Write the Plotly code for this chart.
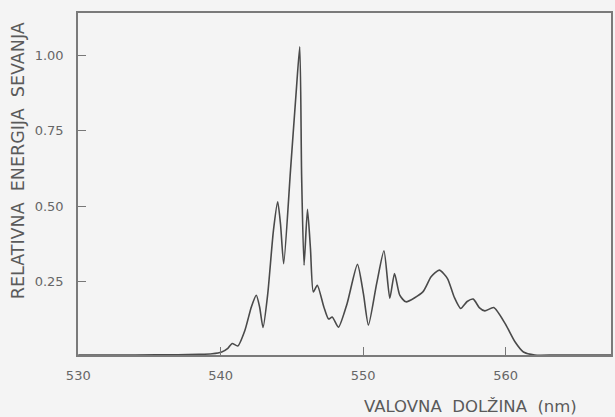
import plotly.graph_objects as go

# Emission spectrum
wavelength_nm = [530.0, 534.0, 537.0, 538.5, 539.4, 540.07, 540.5, 540.8, 541.2, 541.7,
                 542.15, 542.5, 542.73, 542.97, 543.3, 543.7, 544.0, 544.2, 544.42, 544.9,
                 545.3, 545.55, 545.68, 545.85, 546.09, 546.3, 546.5, 546.78, 547.24, 547.57,
                 547.83, 548.26, 548.87, 549.6, 550.02, 550.37, 550.95, 551.46, 551.87, 552.2,
                 552.57, 553.0, 554.19, 554.77, 555.35, 555.92, 556.39, 556.85, 557.3, 557.73,
                 558.15, 558.54, 559.17, 559.97, 560.67, 561.25, 562.05, 563.5, 567.4]
relative_energy = [0.008, 0.008, 0.009, 0.010, 0.012, 0.018, 0.030, 0.046, 0.038, 0.090,
                   0.167, 0.206, 0.167, 0.099, 0.210, 0.420, 0.515, 0.440, 0.310, 0.620,
                   0.880, 1.028, 0.600, 0.305, 0.490, 0.360, 0.217, 0.239, 0.167, 0.127,
                   0.134, 0.100, 0.178, 0.308, 0.210, 0.107, 0.245, 0.353, 0.196, 0.278,
                   0.206, 0.184, 0.217, 0.267, 0.289, 0.261, 0.200, 0.162, 0.185, 0.193,
                   0.165, 0.154, 0.165, 0.112, 0.051, 0.018, 0.008, 0.008, 0.008]

x_ticks = [530, 540, 550, 560]
y_ticks = [0.25, 0.50, 0.75, 1.00]
y_tick_text = ["0.25", "0.50", "0.75", "1.00"]
x_title = "VALOVNA  DOLŽINA  (nm)"
y_title = "RELATIVNA  ENERGIJA  SEVANJA"

bg = "#f4f4f4"
ink = "#5a5a5a"
font_family = "DejaVu Sans"

fig = go.Figure()
fig.add_trace(go.Scatter(
    x=wavelength_nm, y=relative_energy, mode="lines",
    line=dict(color="#4a4a4a", width=1.6, shape="spline", smoothing=0.6),
    hoverinfo="x+y", showlegend=False, cliponaxis=False,
))

axis_common = dict(
    showgrid=False, zeroline=False, showline=True, linecolor="#7a7a7a", linewidth=1.5,
    mirror=True, ticks="inside", ticklen=8, tickcolor="#777777", tickwidth=1,
    tickfont=dict(family=font_family, size=13, color="#666666"),
)

fig.update_layout(
    width=615, height=417,
    margin=dict(l=78, r=2, t=13, b=62),
    paper_bgcolor=bg, plot_bgcolor=bg,
    xaxis=dict(range=[529.98, 567.4], tickvals=x_ticks, ticktext=[str(v) for v in x_ticks],
               ticklabelstandoff=8, **axis_common),
    yaxis=dict(range=[0.008, 1.14], tickvals=y_ticks, ticktext=y_tick_text,
               ticklabelstandoff=10, **axis_common),
    annotations=[
        dict(text=x_title, xref="paper", yref="paper", x=(581 - 78) / 535, y=-(407 - 355) / 342,
             xanchor="right", yanchor="middle", showarrow=False,
             font=dict(family=font_family, size=16.5, color=ink)),
        dict(text=y_title, xref="paper", yref="paper", x=-(78 - 18) / 535, y=(355 - 161) / 342,
             xanchor="center", yanchor="middle", textangle=-90, showarrow=False,
             font=dict(family=font_family, size=17.5, color=ink)),
    ],
)

fig.write_html("out.html", config={"displayModeBar": False},
               post_script="document.body.style.margin='0';")
